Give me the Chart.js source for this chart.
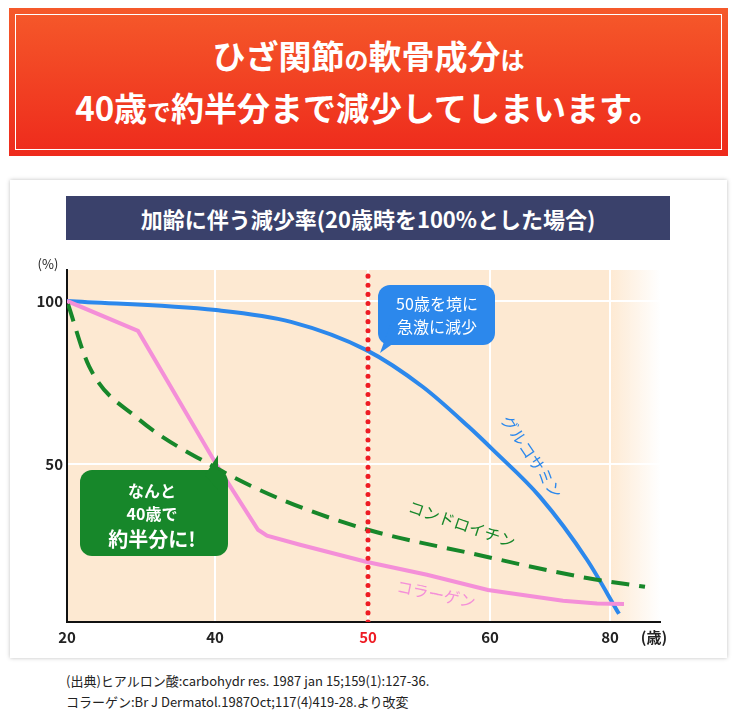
<!DOCTYPE html>
<html><head><meta charset="utf-8">
<script src="https://cdn.jsdelivr.net/npm/chart.js@4"></script>
<style>
body{margin:0;width:736px;height:711px;background:#fff;font-family:"Noto Sans CJK JP",sans-serif;position:relative;overflow:hidden}
#head{position:absolute;left:9px;top:8px;width:719px;height:148px;background:linear-gradient(#f5592a,#ee2a1c);box-sizing:border-box}
#head div{position:absolute;left:6px;top:6px;right:6px;bottom:6px;border:1.5px solid #fff;color:#fff;font-weight:bold;text-align:center;font-size:33px;line-height:48px;padding-top:16px;box-sizing:border-box}
#head small{font-size:24px}
#card{position:absolute;left:10px;top:180px;width:717px;height:478px;background:#fff;box-shadow:0 0 4px rgba(0,0,0,.25)}
#ttl{position:absolute;left:66px;top:196px;width:604px;height:44px;background:#3a416b;color:#fff;font-size:22px;font-weight:bold;line-height:44px;text-align:center}
#wrap{position:absolute;left:0;top:250px;width:736px;height:408px}
#src{position:absolute;left:66px;top:670px;font-size:13px;line-height:21px;color:#222}
</style></head><body>
<div id="head"><div>ひざ関節<small>の</small>軟骨成分<small>は</small><br>40歳<small>で</small>約半分まで減少してしまいます。</div></div>
<div id="card"></div>
<div id="ttl">加齢に伴う減少率(20歳時を100%とした場合)</div>
<div id="wrap"><canvas id="c"></canvas></div>
<div id="src">(出典)ヒアルロン酸:carbohydr res. 1987 jan 15;159(1):127-36.<br>コラーゲン:Br J Dermatol.1987Oct;117(4)419-28.より改変</div>
<script>
// x is a layout position along the (non-uniform) age axis
const tickPos = [0, 148, 301, 423, 543];
const tickLabels = ['20', '40', '50', '60', '80'];
const glucX = [0, 149, 224, 299, 356, 402, 426, 473, 520, 552];
const glucY = [100, 97.2, 93.6, 85, 73.6, 61.3, 54.3, 39.9, 20.6, 4];
const collX = [0, 71, 151, 191, 200, 233, 299, 360, 421, 496, 530, 557];
const collY = [100, 90.8, 49, 29.8, 28, 25.2, 20, 16, 11.3, 8, 7.2, 7];
const chonX = [1, 22, 69, 149, 215, 301, 402, 520, 578];
const chonY = [99, 80, 64.4, 48.8, 39, 29.8, 22.7, 15, 12.3];
const yTicks = [50, 100];

const pts = (xs, ys) => xs.map((x, i) => ({x, y: ys[i]}));
const font = '"Noto Sans CJK JP", sans-serif';

function bubble(ctx, x, y, w, h, r, color, tail) {
    ctx.fillStyle = color;
    ctx.beginPath();
    ctx.roundRect(x, y, w, h, r);
    ctx.fill();
    ctx.beginPath();
    ctx.moveTo(tail[0], tail[1]); ctx.lineTo(tail[2], tail[3]); ctx.lineTo(tail[4], tail[5]);
    ctx.fill();
}

const decor = {
    id: 'decor',
    beforeDraw(chart) {
        const {ctx, chartArea: a} = chart;
        const g = ctx.createLinearGradient(a.right - 50, 0, a.right, 0);
        g.addColorStop(0, '#fde9d2');
        g.addColorStop(1, 'rgba(253,233,210,0)');
        ctx.fillStyle = g;
        ctx.fillRect(a.left, a.top, a.right - a.left, a.bottom - a.top);
    },
    afterDraw(chart) {
        const {ctx, scales: {x, y}} = chart;
        ctx.save();
        ctx.fillStyle = '#222';
        ctx.font = '13px ' + font;
        ctx.textAlign = 'center';
        ctx.fillText('(%)', 48, y.getPixelForValue(108) - 6);
        ctx.font = 'bold 15px ' + font;
        ctx.fillText('(歳)', x.getPixelForValue(587), x.top + 21);
        // blue bubble
        bubble(ctx, 378, 35, 117, 60, 12, '#2c88ec', [392, 70, 380, 103, 405, 85]);
        ctx.fillStyle = '#fff';
        ctx.font = '16px ' + font;
        ctx.fillText('50歳を境に', 437, 60);
        ctx.fillText('急激に減少', 437, 83);
        // green bubble
        bubble(ctx, 80, 220, 148, 86, 12, '#17872a', [205, 225, 218, 205, 218, 240]);
        ctx.fillStyle = '#fff';
        ctx.font = 'bold 16px ' + font;
        ctx.fillText('なんと', 152, 247);
        ctx.fillText('40歳で', 152, 270);
        ctx.font = 'bold 20px ' + font;
        ctx.fillText('約半分に!', 152, 297);
        // rotated series labels
        const lab = (t, px, py, rot, col) => {
            ctx.save(); ctx.translate(px, py); ctx.rotate(rot);
            ctx.fillStyle = col; ctx.font = '16px ' + font; ctx.fillText(t, 0, 0); ctx.restore();
        };
        lab('グルコサミン', 527, 210, 0.98, '#2c88ec');
        lab('コンドロイチン', 460, 280, 0.33, '#17872a');
        lab('コラーゲン', 435, 350, 0.2, '#f48fd8');
        ctx.restore();
    }
};

new Chart(document.getElementById('c'), {
    type: 'line',
    data: {
        datasets: [
            {data: [{x: 301, y: 1.5}, {x: 301, y: 109.5}], borderColor: '#ee1c24', borderWidth: 5, borderDash: [0.1, 9], borderCapStyle: 'round', pointRadius: 0},
            {data: pts(chonX, chonY), borderColor: '#17872a', borderWidth: 4, borderDash: [18, 10], cubicInterpolationMode: 'monotone', pointRadius: 0},
            {data: pts(collX, collY), borderColor: '#f48fd8', borderWidth: 4, tension: 0, pointRadius: 0},
            {data: pts(glucX, glucY), borderColor: '#2c88ec', borderWidth: 4, cubicInterpolationMode: 'monotone', pointRadius: 0}
        ]
    },
    options: {
        responsive: true,
        maintainAspectRatio: false,
        animation: false,
        layout: {padding: {left: 20, top: 20, right: 76}},
        plugins: {legend: {display: false}, tooltip: {enabled: false}},
        scales: {
            x: {
                type: 'linear', min: 0, max: 593,
                afterBuildTicks: s => { s.ticks = tickPos.map(v => ({value: v})); },
                afterFit: s => { s.height = 36; },
                ticks: {
                    callback: v => tickLabels[tickPos.indexOf(v)],
                    color: c => (c.tick && c.tick.value === 301) ? '#ee1c24' : '#222',
                    font: {size: 15, weight: 'bold', family: font}, maxRotation: 0, padding: 6
                },
                grid: {color: '#fff', lineWidth: 2, drawTicks: false},
                border: {color: '#111', width: 2}
            },
            y: {
                min: 1.5, max: 109.5,
                afterBuildTicks: s => { s.ticks = yTicks.map(v => ({value: v})); },
                afterFit: s => { s.width = 47; },
                ticks: {color: '#222', font: {size: 15, weight: 'bold', family: font}, padding: 4},
                grid: {color: '#fff', lineWidth: 2, drawTicks: false},
                border: {color: '#111', width: 2}
            }
        }
    },
    plugins: [decor]
});
</script>
</body></html>
